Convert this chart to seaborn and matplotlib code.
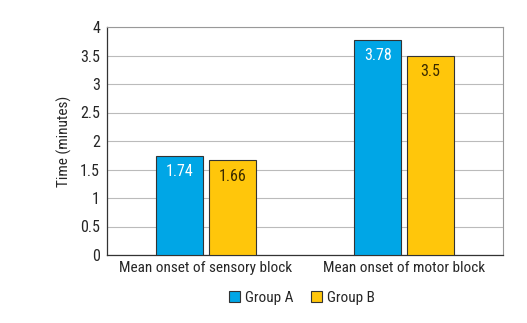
import matplotlib
matplotlib.use("Agg")
import matplotlib.pyplot as plt
import seaborn as sns
import pandas as pd
from matplotlib.patches import Patch
from matplotlib import font_manager

categories = ["Mean onset of sensory block", "Mean onset of motor block"]
groups = ["Group A", "Group B"]
group_a = [1.74, 3.78]
group_b = [1.66, 3.5]
labels_a = ["1.74", "3.78"]
labels_b = ["1.66", "3.5"]

sns.set_style("white")
names = {f.name for f in font_manager.fontManager.ttflist}
fam = [n for n in ["Liberation Sans Narrow", "Roboto Condensed", "Open Sans Condensed", "DejaVu Sans"] if n in names]
plt.rcParams['font.family'] = fam + ['DejaVu Sans']
plt.rcParams['font.stretch'] = 'condensed'

df = pd.DataFrame({
    "category": categories * 2,
    "group": [groups[0]] * 2 + [groups[1]] * 2,
    "value": group_a + group_b,
})

colors = ["#00A6E6", "#FFC60B"]
fig = plt.figure(figsize=(5.27, 3.23), dpi=100)
ax = fig.add_axes([107/527, 1 - 255/323, 396/527, 228/323])
sns.barplot(data=df, x="category", y="value", hue="group", palette=colors,
            saturation=1, width=0.53, gap=0.1, edgecolor="#333333", linewidth=0.8,
            ax=ax, legend=False, zorder=3)
ax.set_ylim(0, 4)
ax.set_yticks([i * 0.5 for i in range(9)])
ax.set_yticklabels(["0", "0.5", "1", "1.5", "2", "2.5", "3", "3.5", "4"])
ax.yaxis.grid(True, color="#BBBBBB", linewidth=0.8, zorder=0)
ax.set_axisbelow(True)
ax.set_xlabel("")
ax.set_ylabel("Time (minutes)", fontsize=11, labelpad=6)
ax.tick_params(axis="both", labelsize=11, length=3, color="#333333")
ax.tick_params(axis="x", length=0, pad=4)
ax.tick_params(axis="y", labelsize=11.5, pad=2)
for s in ["left", "bottom"]:
    ax.spines[s].set_color("#333333")
    ax.spines[s].set_linewidth(0.9)
for s in ["top", "right"]:
    ax.spines[s].set_color("#999999")
    ax.spines[s].set_linewidth(0.8)

for cont, labs, col in zip(ax.containers, [labels_a, labels_b], ["white", "#3a2a00"]):
    ax.bar_label(cont, labels=labs, padding=-17, color=col, fontsize=11.5)

handles = [Patch(facecolor=c, edgecolor="#333333", linewidth=0.8, label=g) for c, g in zip(colors, groups)]
fig.legend(handles=handles, loc="center", bbox_to_anchor=(302/527, 1 - 298/323), ncol=2,
           frameon=False, fontsize=11, handlelength=0.7, handleheight=0.7,
           handletextpad=0.3, columnspacing=1.2)

fig.savefig("out.png", dpi=100)
